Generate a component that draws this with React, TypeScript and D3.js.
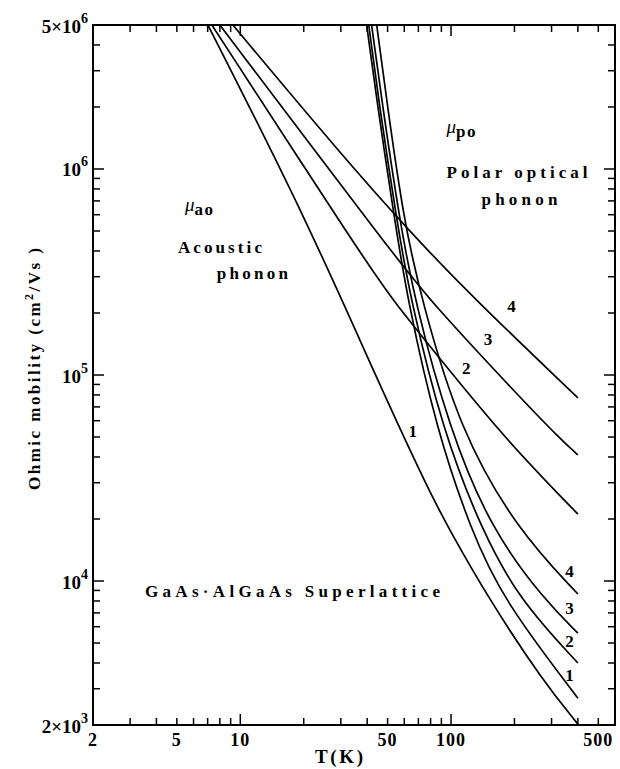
import React from 'react';
import * as d3 from 'd3';

const W = 620;
const H = 769;

// ---- data (T in K, mobility in cm^2/Vs) ----
// Acoustic phonon mobility (mu_ao), cases 1-4
const acT1 = [7.02, 20.7, 45.8, 79.1, 98.4, 152.2, 271.6, 400];
const acMu1 = [5e6, 5.65e5, 8.94e4, 2.7e4, 1.77e4, 8.09e3, 3.3e3, 2.02e3];
const acT2 = [7.33, 38.9, 52.8, 96.3, 183.2, 400];
const acMu2 = [5e6, 3.62e5, 2.31e5, 1.08e5, 4.83e4, 2.11e4];
const acT3 = [8.0, 55.8, 79.1, 211.2, 334, 400];
const acMu3 = [5e6, 3.62e5, 2.31e5, 7.82e4, 4.83e4, 4.09e4];
const acT4 = [9.22, 29.6, 67.1, 126.5, 400];
const acMu4 = [5e6, 1.2e6, 4.68e5, 2.39e5, 7.74e4];

// Polar optical phonon mobility (mu_po), cases 1-4
const poT1 = [39.8, 44.4, 54.0, 62.2, 85.4, 124.2, 176.8, 400];
const poMu1 = [5e6, 2.16e6, 5.65e5, 2.31e5, 5.41e4, 1.77e4, 8.09e3, 2.7e3];
const poT2 = [40.7, 45.3, 55.2, 64.3, 91.2, 139.5, 211.2, 400];
const poMu2 = [5e6, 2.16e6, 5.65e5, 2.31e5, 5.41e4, 1.77e4, 8.09e3, 4.0e3];
const poT3 = [42.0, 46.9, 57.0, 67.1, 98.4, 155.6, 277.5, 400];
const poMu3 = [5e6, 2.16e6, 5.65e5, 2.31e5, 5.41e4, 1.77e4, 8.09e3, 5.59e3];
const poT4 = [44.4, 49.5, 59.6, 72.5, 109.8, 206.6, 400];
const poMu4 = [5e6, 2.16e6, 5.65e5, 2.31e5, 5.41e4, 1.77e4, 8.65e3];

// curve number labels
const curveNames = ['1', '2', '3', '4'];
const acLabelT = [65.9, 118.1, 149.8, 193.6];
const acLabelMu = [5.0e4, 1.01e5, 1.4e5, 2.02e5];
const poLabelT = [364.6, 364.6, 364.6, 364.6];
const poLabelMu = [3.27e3, 4.78e3, 6.91e3, 1.045e4];

// axis tick labels
const xTickLabelValues = [2, 5, 10, 50, 100, 500];
const yTickLabelValues = [2e3, 1e4, 1e5, 1e6, 5e6];
const yTickMantissa = ['2×10', '10', '10', '10', '5×10'];
const yTickExponent = ['3', '4', '5', '6', '6'];

const FONT = '"Liberation Serif", "Times New Roman", serif';

const x = d3.scaleLog().domain([2, 600]).range([93, 615]);
const y = d3.scaleLog().domain([2e3, 5e6]).range([725, 25]);

const line = d3
  .line<[number, number]>()
  .x((d) => x(d[0]))
  .y((d) => y(d[1]))
  .curve(d3.curveBasis);

function zip(a: number[], b: number[]): [number, number][] {
  return a.map((v, i) => [v, b[i]] as [number, number]);
}

const series: [number, number][][] = [
  zip(acT1, acMu1),
  zip(acT2, acMu2),
  zip(acT3, acMu3),
  zip(acT4, acMu4),
  zip(poT1, poMu1),
  zip(poT2, poMu2),
  zip(poT3, poMu3),
  zip(poT4, poMu4),
];

const isMajor = (v: number) => Math.abs(Math.log10(v) - Math.round(Math.log10(v))) < 1e-9;

export default function App() {
  const [x0, x1] = x.range();
  const [y0, y1] = y.range(); // bottom, top
  const xTicks = x.ticks().filter((v) => v > 2 && v < 600);
  const yTicks = y.ticks().filter((v) => v > 2e3 && v < 5e6);
  const minorLen = 7;
  const majorLen = 11;

  return (
    <svg
      width={W}
      height={H}
      style={{ position: 'absolute', left: 0, top: 0, background: '#fff' }}
      fontFamily={FONT}
      fontWeight="bold"
    >
      <rect x={0} y={0} width={W} height={H} fill="#fff" />
      <defs>
        <clipPath id="plotClip">
          <rect x={x0} y={y1} width={x1 - x0} height={y0 - y1} />
        </clipPath>
      </defs>

      {/* curves */}
      <g clipPath="url(#plotClip)" fill="none" stroke="#000" strokeWidth={1.7}>
        {series.map((s, i) => (
          <path key={i} d={line(s) || ''} />
        ))}
      </g>

      {/* frame */}
      <rect x={x0} y={y1} width={x1 - x0} height={y0 - y1} fill="none" stroke="#000" strokeWidth={2} />

      {/* ticks (inward on all four sides) */}
      <g stroke="#000" strokeWidth={1.5}>
        {xTicks.map((v, i) => {
          const len = isMajor(v) ? majorLen : minorLen;
          const px = x(v);
          return (
            <g key={i}>
              <line x1={px} x2={px} y1={y0} y2={y0 - len} />
              <line x1={px} x2={px} y1={y1} y2={y1 + len} />
            </g>
          );
        })}
        {yTicks.map((v, i) => {
          const len = isMajor(v) ? majorLen : minorLen;
          const py = y(v);
          return (
            <g key={i}>
              <line x1={x0} x2={x0 + len} y1={py} y2={py} />
              <line x1={x1} x2={x1 - len} y1={py} y2={py} />
            </g>
          );
        })}
      </g>

      {/* x tick labels */}
      {xTickLabelValues.map((v, i) => (
        <text key={i} x={x(v)} y={746} textAnchor="middle" fontSize={18} letterSpacing={1}>
          {String(v)}
        </text>
      ))}

      {/* y tick labels */}
      {yTickLabelValues.map((v, i) => (
        <text key={i} x={88} y={y(v) + 7.5} textAnchor="end" fontSize={19}>
          <tspan>{yTickMantissa[i]}</tspan>
          <tspan dy={-10} fontSize={14}>
            {yTickExponent[i]}
          </tspan>
        </text>
      ))}

      {/* axis titles */}
      <text x={339} y={763} textAnchor="middle" fontSize={19} textLength={48} lengthAdjust="spacing">
        T(K)
      </text>
      <text
        transform={`translate(40, 369) rotate(-90)`}
        textAnchor="middle"
        fontSize={17}
        textLength={242}
        lengthAdjust="spacing"
      >
        Ohmic mobility  (cm<tspan dy={-7} fontSize={12}>2</tspan>
        <tspan dy={7}>/Vs )</tspan>
      </text>

      {/* curve number labels */}
      {curveNames.map((n, i) => (
        <text key={'a' + i} x={x(acLabelT[i])} y={y(acLabelMu[i])} textAnchor="middle" fontSize={17}>
          {n}
        </text>
      ))}
      {curveNames.map((n, i) => (
        <text key={'p' + i} x={x(poLabelT[i])} y={y(poLabelMu[i])} textAnchor="middle" fontSize={17}>
          {n}
        </text>
      ))}

      {/* annotations */}
      <text x={x(5.46)} y={y(5.98e5)} fontSize={17}>
        <tspan fontStyle="italic" fontWeight="normal" fontSize={19} dy={-4}>μ</tspan>
        <tspan dy={4} letterSpacing={1.5}>ao</tspan>
      </text>
      <text x={x(5.06)} y={y(3.91e5)} fontSize={17} textLength={84} lengthAdjust="spacing">
        Acoustic
      </text>
      <text x={x(7.74)} y={y(2.92e5)} fontSize={17} textLength={71} lengthAdjust="spacing">
        phonon
      </text>
      <text x={x(95.2)} y={y(1.43e6)} fontSize={17}>
        <tspan fontStyle="italic" fontWeight="normal" fontSize={19} dy={-4}>μ</tspan>
        <tspan dy={4} letterSpacing={1.5}>po</tspan>
      </text>
      <text x={x(95.2)} y={y(9.04e5)} fontSize={17} textLength={141} lengthAdjust="spacing">
        Polar optical
      </text>
      <text x={x(139.5)} y={y(6.69e5)} fontSize={17} textLength={76} lengthAdjust="spacing">
        phonon
      </text>
      <text x={x(3.53)} y={y(8.36e3)} fontSize={17} textLength={295} lengthAdjust="spacing">
        GaAs·AlGaAs  Superlattice
      </text>
    </svg>
  );
}
